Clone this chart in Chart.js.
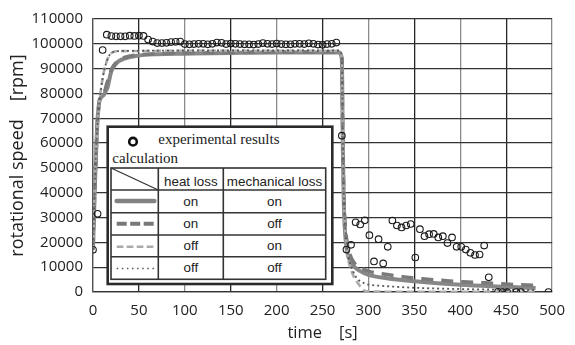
<!DOCTYPE html>
<html>
<head>
<meta charset="utf-8">
<script src="https://cdn.jsdelivr.net/npm/chart.js@4.4.0/dist/chart.umd.min.js"></script>
<style>
html,body{margin:0;padding:0;background:#fff;}
#wrap{position:relative;width:575px;height:345px;overflow:hidden;}
#c{position:absolute;left:0;top:0;}
#ov{position:absolute;left:0;top:0;pointer-events:none;}
.t{position:absolute;white-space:nowrap;color:#222;}
.serif{font-family:"Liberation Serif","Times New Roman",serif;font-size:15px;line-height:15px;}
.cell{position:absolute;display:flex;align-items:center;justify-content:center;font-family:"Liberation Sans",Arial,sans-serif;font-size:13.4px;color:#222;white-space:nowrap;}
</style>
</head>
<body>
<div id="wrap">
<canvas id="c" width="575" height="345"></canvas>
<svg id="ov" width="575" height="345" xmlns="http://www.w3.org/2000/svg">
  <rect x="107.7" y="126.7" width="224.6" height="157.3" fill="#fff" stroke="#2a2a2a" stroke-width="2.6"/>
  <circle cx="133" cy="141.7" r="3.8" fill="none" stroke="#111" stroke-width="2.6"/>
  <rect x="111" y="168" width="214.7" height="111.3" fill="none" stroke="#333" stroke-width="1.6"/>
  <line x1="158.3" y1="168" x2="158.3" y2="279.3" stroke="#333" stroke-width="1.6"/>
  <line x1="223.3" y1="168" x2="223.3" y2="279.3" stroke="#333" stroke-width="1.6"/>
  <line x1="111" y1="190" x2="325.7" y2="190" stroke="#333" stroke-width="1.6"/>
  <line x1="111" y1="212.7" x2="325.7" y2="212.7" stroke="#333" stroke-width="1.6"/>
  <line x1="111" y1="235" x2="325.7" y2="235" stroke="#333" stroke-width="1.6"/>
  <line x1="111" y1="256.7" x2="325.7" y2="256.7" stroke="#333" stroke-width="1.6"/>
  <line x1="111" y1="168" x2="158.3" y2="190" stroke="#333" stroke-width="1.3"/>
  <line x1="116.7" y1="201" x2="154.3" y2="201" stroke="#828282" stroke-width="4.5" stroke-linecap="round"/>
  <line x1="116.7" y1="223.7" x2="154.3" y2="223.7" stroke="#787878" stroke-width="4" stroke-dasharray="10 3.5"/>
  <line x1="116.7" y1="246.7" x2="154.3" y2="246.7" stroke="#aaaaaa" stroke-width="2.5" stroke-dasharray="6.7 3.3"/>
  <line x1="116.7" y1="268.5" x2="154.3" y2="268.5" stroke="#555" stroke-width="1.5" stroke-dasharray="1.5 3.6"/>
</svg>
<div class="t serif" style="left:158.3px;top:132.4px;">experimental results</div>
<div class="t serif" style="left:112.3px;top:150.7px;">calculation</div>
<div class="cell" style="left:158.3px;top:170px;width:65px;height:22px;">heat loss</div>
<div class="cell" style="left:223.3px;top:170px;width:102.4px;height:22px;">mechanical loss</div>
<div class="cell" style="left:158.3px;top:190px;width:65px;height:22.7px;">on</div>
<div class="cell" style="left:223.3px;top:190px;width:102.4px;height:22.7px;">on</div>
<div class="cell" style="left:158.3px;top:212.7px;width:65px;height:22.3px;">on</div>
<div class="cell" style="left:223.3px;top:212.7px;width:102.4px;height:22.3px;">off</div>
<div class="cell" style="left:158.3px;top:235px;width:65px;height:21.7px;">off</div>
<div class="cell" style="left:223.3px;top:235px;width:102.4px;height:21.7px;">on</div>
<div class="cell" style="left:158.3px;top:256.7px;width:65px;height:22.6px;">off</div>
<div class="cell" style="left:223.3px;top:256.7px;width:102.4px;height:22.6px;">off</div>
</div>
<script>
// experimental results
const expT = [0, 5, 10.5, 15, 20, 25, 30, 35, 40, 45, 50, 55, 60, 65, 70, 75, 80, 85, 90, 95, 100, 105, 110, 115, 120, 125, 130, 135, 140, 145, 150, 155, 160, 165, 170, 175, 180, 185, 190, 195, 200, 205, 210, 215, 220, 225, 230, 235, 240, 245, 250, 255, 260, 265,
  271, 276, 281, 286, 291, 296, 301, 306, 311, 316, 321, 326, 331, 336, 341, 346, 351, 356, 361, 366, 371, 376, 381, 386, 391, 396, 401, 406, 411, 416, 421, 426, 431, 441, 446, 451, 461, 466, 496];
const expV = [17000, 31500, 97500, 103700, 103100, 103000, 103000, 103000, 103300, 103200, 103300, 103200, 101700, 100900, 100300, 100300, 100400, 100700, 100800, 100900, 99900, 99800, 99900, 100000, 100000, 99800, 100000, 100500, 100400, 99900, 100100, 100000, 99900, 99800, 99800, 99700, 99900, 100300, 100000, 99900, 100100, 99900, 99800, 99800, 100000, 100000, 99900, 100200, 100000, 99700, 99600, 99900, 100000, 100500,
  63000, 17100, 19000, 28100, 27200, 28900, 22900, 12300, 21300, 11500, 18200, 28800, 26800, 26000, 26800, 27400, 13900, 25300, 22500, 23300, 23400, 22000, 22500, 19700, 22000, 18200, 18200, 17100, 15800, 14900, 15100, 18700, 5900, 100, 0, 0, 0, 0, 0];

// calculation: heat loss on, mechanical loss on
const onOnT = [0, 1, 2, 3, 4, 5, 6, 7, 9, 12, 14, 16, 18, 20, 23, 28, 34, 48, 70, 100, 150, 200, 250, 268, 271, 272, 273, 274, 276, 280, 285, 290, 300, 320, 350, 400, 450, 482];
const onOnV = [17000, 30000, 42000, 52000, 62000, 70000, 74000, 77000, 78500, 79500, 81000, 82500, 86000, 89000, 91000, 93000, 94000, 95200, 95800, 96000, 96300, 96500, 96500, 96500, 94000, 60000, 38000, 27000, 18000, 12500, 10000, 8600, 6900, 5500, 4300, 2900, 2100, 1600];

// calculation: heat loss on, mechanical loss off
const onOffT = [0, 1, 2, 3, 4, 5, 6, 7, 9, 12, 15, 18, 20, 23, 28, 34, 48, 70, 100, 150, 200, 250, 268, 271, 272, 273, 274, 276, 280, 285, 290, 300, 312, 337, 359, 380, 403, 427, 450, 473, 483];
const onOffV = [17000, 30000, 42000, 52000, 62000, 70000, 74000, 77000, 78500, 80000, 84000, 87000, 89500, 91500, 93500, 94500, 95500, 96000, 96300, 96500, 96700, 96700, 96700, 94000, 62000, 42000, 31000, 22000, 15000, 11500, 10000, 8400, 7500, 6200, 5300, 4700, 4100, 3700, 3200, 2800, 2700];

// calculation: heat loss off, mechanical loss on
const offOnT = [0, 1, 2, 3, 4, 5, 6, 7, 8, 10, 12, 15, 18, 21, 25, 50, 100, 150, 200, 250, 268, 271, 272, 273, 274, 276, 278, 280, 283, 286, 289, 292, 295, 300, 350, 400, 450, 482];
const offOnV = [17000, 31000, 44000, 54000, 62000, 68000, 73000, 77000, 80000, 85000, 89000, 93000, 95500, 96500, 97000, 97100, 97200, 97200, 97200, 97200, 97200, 94000, 60000, 40000, 29000, 19000, 13000, 10000, 7000, 5000, 3300, 1800, 700, 200, 100, 100, 100, 100];

// calculation: heat loss off, mechanical loss off
const offOffT = [0, 1, 2, 3, 4, 5, 6, 7, 8, 10, 12, 15, 18, 21, 25, 50, 100, 150, 200, 250, 268, 271, 272, 273, 274, 276, 278, 280, 283, 286, 290, 295, 300, 310, 325, 350, 400, 450, 482];
const offOffV = [17000, 31000, 44000, 54000, 62000, 68000, 73000, 77000, 80000, 85000, 89000, 93000, 95500, 96500, 97000, 97200, 97300, 97300, 97300, 97300, 97300, 94500, 62000, 42000, 31000, 20000, 14500, 11500, 8500, 6300, 4600, 3600, 3000, 2600, 2200, 1700, 1200, 900, 700];

const xTicksStep = 50;
const yTicksStep = 10000;

const pts = (t, v) => t.map((x, i) => ({x: x, y: v[i]}));
const tickFont = {family: "'Open Sans', 'Liberation Sans', sans-serif", size: 15};
const xTitleFont = {family: "'Open Sans', 'Liberation Sans', sans-serif", size: 16.5};
const yTitleFont = {family: "'Open Sans', 'Liberation Sans', sans-serif", size: 18};

new Chart(document.getElementById('c'), {
  type: 'scatter',
  data: {
    datasets: [
      {label: 'experimental results', data: pts(expT, expV), showLine: false, pointRadius: 3.3, pointBorderWidth: 1.1, pointBorderColor: '#1a1a1a', pointBackgroundColor: 'rgba(255,255,255,0)', order: 0},
      {label: 'heat loss off, mechanical loss off', data: pts(offOffT, offOffV), showLine: true, borderColor: '#5a5a5a', borderWidth: 1.8, borderDash: [2, 3], pointRadius: 0, cubicInterpolationMode: 'monotone', order: 1},
      {label: 'heat loss off, mechanical loss on', data: pts(offOnT, offOnV), showLine: true, borderColor: '#adadad', borderWidth: 2.6, borderDash: [7, 4], pointRadius: 0, cubicInterpolationMode: 'monotone', order: 2},
      {label: 'heat loss on, mechanical loss off', data: pts(onOffT, onOffV), showLine: true, borderColor: '#7a7a7a', borderWidth: 3.5, borderDash: [12, 8], pointRadius: 0, cubicInterpolationMode: 'monotone', order: 3},
      {label: 'heat loss on, mechanical loss on', data: pts(onOnT, onOnV), showLine: true, borderColor: '#878787', borderWidth: 4, pointRadius: 0, cubicInterpolationMode: 'monotone', order: 4}
    ]
  },
  options: {
    responsive: false,
    animation: false,
    devicePixelRatio: 1,
    layout: {padding: {top: 18, right: 17, left: 0, bottom: 0}},
    plugins: {legend: {display: false}, tooltip: {enabled: false}},
    scales: {
      x: {
        type: 'linear', min: 0, max: 500,
        ticks: {stepSize: xTicksStep, padding: 10, color: '#222', font: tickFont, maxRotation: 0, callback: v => String(v)},
        grid: {color: c => (c.tick && c.tick.value % 100 === 0) ? '#8c8c8c' : '#262626', lineWidth: 1.3, drawTicks: false},
        border: {color: '#333', width: 1.3},
        title: {display: true, text: 'time\u3000[s]', color: '#222', font: xTitleFont, padding: {top: 0, bottom: 2}},
        afterFit: s => { s.height = 53; }
      },
      y: {
        min: 0, max: 110000,
        ticks: {stepSize: yTicksStep, padding: 10, color: '#222', font: tickFont, callback: v => String(v)},
        grid: {color: '#333', lineWidth: 1.3, drawTicks: false},
        border: {color: '#555', width: 1.3},
        title: {display: true, text: 'rotational speed\u3000[rpm]', color: '#222', font: yTitleFont, padding: {top: 7, bottom: 0}},
        afterFit: s => { s.width = 93; }
      }
    }
  }
});
</script>
</body>
</html>
